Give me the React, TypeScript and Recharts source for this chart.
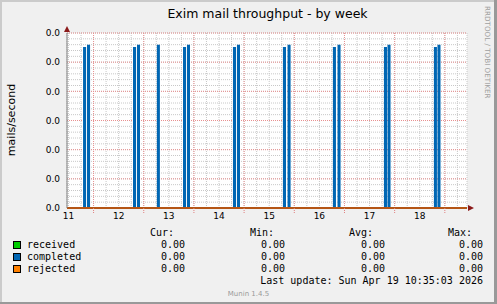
import React from 'react';
import { LineChart, Line, XAxis, YAxis, CartesianGrid, ReferenceLine } from 'recharts';

// time axis is in hours since Apr 11 00:00
const rangeHours = [11.3, 202.6];
const dayLabels = ['11', '12', '13', '14', '15', '16', '17', '18'];
const labelHours = [12, 36, 60, 84, 108, 132, 156, 180];
const midnightHours = [24, 48, 72, 96, 120, 144, 168, 192];
const yMajorTicks = [0, 0.001, 0.002, 0.003, 0.004, 0.005, 0.006];

// completed mails: non-zero 30 minute samples
const completedHours = [19.7, 21.6, 43.6, 45.5, 55.0, 67.5, 69.4, 91.4, 93.3, 115.3, 117.5, 139.2, 141.4, 163.6, 165.3, 187.5, 189.2];
const completedValues = [0.00549, 0.00556, 0.00549, 0.00556, 0.00556, 0.00549, 0.00556, 0.00549, 0.00556, 0.00549, 0.00556, 0.00549, 0.00556, 0.00549, 0.00556, 0.00549, 0.00556];
const receivedValues = [0, 0];
const rejectedValues = [0, 0];

const legendRows = [
  { name: 'received', color: '#00CC00', cur: '0.00', min: '0.00', avg: '0.00', max: '0.00' },
  { name: 'completed', color: '#0066B3', cur: '0.00', min: '0.00', avg: '0.00', max: '0.00' },
  { name: 'rejected', color: '#FF8000', cur: '0.00', min: '0.00', avg: '0.00', max: '0.00' },
];

const SANS = "'DejaVu Sans', sans-serif";
const MONO = "'DejaVu Sans Mono', monospace";

// minor grid every 6 hours / every 1/5 of a major y step
const xTicks = Array.from({ length: 32 }, (_, i) => 12 + 6 * i);
const yTicks = Array.from({ length: 31 }, (_, i) => i * 0.0002);

// each sample drawn as a narrow column (half hour wide)
const completedData: { t: number; v: number }[] = [{ t: rangeHours[0], v: 0 }];
completedHours.forEach((h, i) => {
  completedData.push({ t: h - 0.25, v: 0 });
  completedData.push({ t: h - 0.25, v: completedValues[i] });
  completedData.push({ t: h + 0.25, v: completedValues[i] });
  completedData.push({ t: h + 0.25, v: 0 });
});
completedData.push({ t: rangeHours[1], v: 0 });

const receivedData = rangeHours.map((t, i) => ({ t, v: receivedValues[i] }));
const rejectedData = rangeHours.map((t, i) => ({ t, v: rejectedValues[i] }));

const XTick = (props: any) => {
  const { x, y, payload } = props;
  const v = payload.value;
  const li = labelHours.indexOf(v);
  return (
    <g>
      {midnightHours.includes(v) && (
        <line x1={x} x2={x} y1={y - 5} y2={y} stroke="#E08080" strokeDasharray="1 1" />
      )}
      {li >= 0 && (
        <text x={x} y={y} dy="0.71em" textAnchor="middle" fontSize={9} fontFamily={SANS} fill="#000">
          {dayLabels[li]}
        </text>
      )}
    </g>
  );
};

export default function App() {
  return (
    <div style={{ position: 'absolute', left: 0, top: 0, width: 497, height: 304, background: '#F0F0F0' }}>
      <svg width={497} height={304} style={{ position: 'absolute', left: 0, top: 0 }}>
        <rect x={0} y={0} width={497} height={2} fill="#CBCBCB" />
        <rect x={0} y={0} width={2} height={304} fill="#CBCBCB" />
        <rect x={0} y={302} width={497} height={2} fill="#999999" />
        <rect x={494} y={0} width={3} height={304} fill="#999999" />
        <text x={267.5} y={17.5} textAnchor="middle" fontSize={12.5} fontFamily={SANS} fill="#000">
          Exim mail throughput - by week
        </text>
        <text transform="translate(12,120) rotate(-90)" y={3} textAnchor="middle" fontSize={11} fontFamily={SANS} fill="#000">
          mails/second
        </text>
        <text transform="translate(485,6) rotate(90)" fontSize={7.2} fontFamily={SANS} fill="#A0A0A0">
          RRDTOOL / TOBI OETIKER
        </text>

        {/* legend */}
        <g fontFamily={MONO} fontSize={10} fill="#000">
          <text x={150} y={236}>Cur:</text>
          <text x={250} y={236}>Min:</text>
          <text x={349} y={236}>Avg:</text>
          <text x={448} y={236}>Max:</text>
          {legendRows.map((r, i) => (
            <g key={r.name}>
              <rect x={13.5} y={241.5 + i * 12} width={7} height={7} fill={r.color} stroke="#000" strokeWidth={1} />
              <text x={27} y={248 + i * 12}>{r.name}</text>
              <text x={185} y={248 + i * 12} textAnchor="end">{r.cur}</text>
              <text x={285} y={248 + i * 12} textAnchor="end">{r.min}</text>
              <text x={385} y={248 + i * 12} textAnchor="end">{r.avg}</text>
              <text x={483} y={248 + i * 12} textAnchor="end">{r.max}</text>
            </g>
          ))}
          <text x={483} y={284} textAnchor="end">Last update: Sun Apr 19 10:35:03 2026</text>
        </g>
        <text x={248.5} y={296} textAnchor="middle" fontSize={7} fontFamily={SANS} fill="#999999">
          Munin 1.4.5
        </text>
      </svg>

      <div style={{ position: 'absolute', left: 0, top: 0 }}>
        <LineChart width={497} height={304} margin={{ top: 33, right: 30, bottom: 76, left: 37 }}>
          <CartesianGrid fill="#FFFFFF" stroke="#C8C8C8" strokeDasharray="1 1" />
          {midnightHours.map((h) => (
            <ReferenceLine key={'mx' + h} x={h} stroke="#E89090" strokeDasharray="1 1" />
          ))}
          {yMajorTicks.map((v) => (
            <ReferenceLine key={'my' + v} y={v} stroke="#E89090" strokeDasharray="1 1" />
          ))}
          <XAxis
            type="number"
            dataKey="t"
            domain={rangeHours}
            allowDataOverflow
            ticks={xTicks}
            interval={0}
            height={20}
            tickSize={0}
            tickMargin={5}
            tickLine={false}
            axisLine={{ stroke: '#6B2A2A' }}
            tick={<XTick />}
          />
          <YAxis
            type="number"
            domain={[0, 0.006]}
            ticks={yTicks}
            interval={0}
            width={30}
            tickSize={0}
            tickMargin={7}
            tickLine={false}
            axisLine={{ stroke: '#808080' }}
            tick={{ fontSize: 9, fontFamily: SANS, fill: '#000' }}
            tickFormatter={(v: number) => (Math.round(v * 5000) % 5 === 0 ? v.toFixed(1) : '')}
          />
          <Line data={receivedData} dataKey="v" stroke="#00CC00" strokeWidth={2} dot={false} isAnimationActive={false} />
          <Line data={completedData} dataKey="v" stroke="#0066B3" strokeWidth={2} dot={false} isAnimationActive={false} />
          <Line data={rejectedData} dataKey="v" stroke="#FF8000" strokeWidth={2} dot={false} isAnimationActive={false} />
        </LineChart>
      </div>

      <svg width={497} height={304} style={{ position: 'absolute', left: 0, top: 0, pointerEvents: 'none' }}>
        <polygon points="64,32 67,26 70,32" fill="#8B1A1A" />
        <polygon points="468,205 474,208 468,211" fill="#8B1A1A" />
      </svg>
    </div>
  );
}
